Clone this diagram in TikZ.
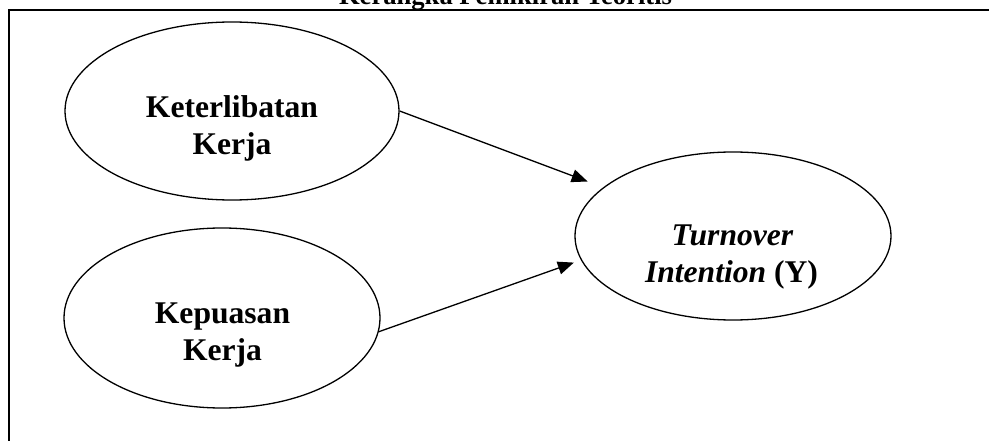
\documentclass[tikz,border=0pt]{standalone}
\usepackage{fontspec}
\setmainfont{Liberation Serif}
\usetikzlibrary{shapes.geometric,arrows.meta}
\begin{document}
\begin{tikzpicture}[x=1pt,y=1pt,
  oval/.style={draw, ellipse, line width=1.3pt, inner sep=0pt},
  lbl/.style={anchor=base, inner sep=0pt, font=\fontsize{31.6}{37}\selectfont\bfseries},
  arr/.style={line width=1.3pt, -{Triangle[length=16pt,width=13pt]}},
  frameline/.style={line width=2pt}]
\useasboundingbox (0,0) rectangle (989,-441);
\clip (0,0) rectangle (989,-441);
\node[anchor=base, inner sep=0pt, font=\fontsize{26.6}{30}\selectfont\bfseries] (title) at (505.5,-4.5) {Kerangka Pemikiran Teoritis};
\coordinate (fb) at (9,-442);
\coordinate (fc) at (9,-10);
\coordinate (fr) at (990,-10);
\draw[frameline] (fb) -- (fc) -- (fr);
% ellipses
\node[oval, minimum width=334pt, minimum height=178pt] (k1) at (232,-111) {};
\node[oval, minimum width=316pt, minimum height=180pt] (k2) at (222,-318) {};
\node[oval, minimum width=316pt, minimum height=168pt] (tv) at (733,-236) {};
% labels
\node[lbl] (k1a) at (232,-118) {Keterlibatan};
\node[lbl] (k1b) at (232,-155) {Kerja};
\node[lbl] (k2a) at (222.5,-323) {Kepuasan};
\node[lbl] (k2b) at (222.5,-360) {Kerja};
\node[lbl] (tva) at (732.5,-245) {\textit{Turnover}};
\node[lbl] (tvb) at (731.5,-282) {\textit{Intention} (Y)};
% arrows
\draw[arr, shorten >=16.6pt] (k1.east) -- (tv);
\draw[arr, shorten >=7.5pt] (k2.-5.5) -- (tv.189.3);
\end{tikzpicture}
\end{document}
